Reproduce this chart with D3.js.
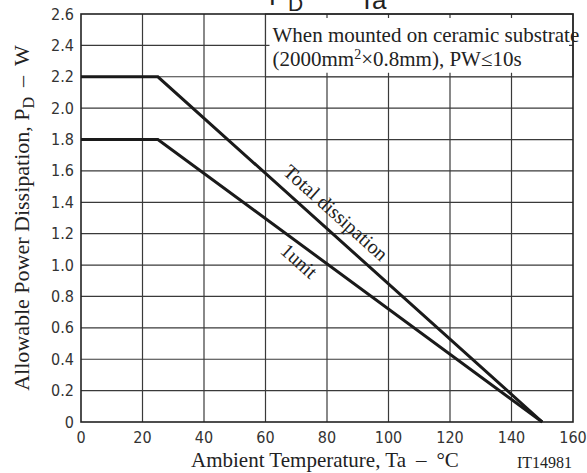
<!DOCTYPE html>
<html>
<head>
<meta charset="utf-8">
<script src="https://cdn.jsdelivr.net/npm/d3@7"></script>
<style>
  html, body { margin: 0; padding: 0; background: #fff; }
  svg { display: block; }
  .serif { font-family: "Liberation Serif", "Times New Roman", serif; fill: #222; }
  .tick { font-family: "Liberation Sans Narrow", "DejaVu Sans Condensed", "Liberation Sans", sans-serif; font-size: 16px; fill: #333; }
</style>
</head>
<body>
<div id="chart"></div>
<script>
// Derating curves, Pd (W) against ambient temperature Ta (degC)
const totalTa = [0, 25, 150];
const totalPd = [2.2, 2.2, 0];
const unitTa = [0, 25, 150];
const unitPd = [1.8, 1.8, 0];

const xTicks = [0, 20, 40, 60, 80, 100, 120, 140, 160];
const yTicks = [0, 0.2, 0.4, 0.6, 0.8, 1.0, 1.2, 1.4, 1.6, 1.8, 2.0, 2.2, 2.4, 2.6];
const yTickLabels = ["0", "0.2", "0.4", "0.6", "0.8", "1.0", "1.2", "1.4", "1.6", "1.8", "2.0", "2.2", "2.4", "2.6"];

const width = 587, height = 473;
const margin = { top: 14, right: 14, bottom: 51, left: 81 };

const svg = d3.select("#chart").append("svg")
    .attr("width", width)
    .attr("height", height);

const x = d3.scaleLinear().domain([0, 160]).range([margin.left, width - margin.right]);
const y = d3.scaleLinear().domain([0, 2.6]).range([height - margin.bottom, margin.top]);

const gridColor = "#3a3a3a";

// grid
svg.append("g").selectAll("line")
    .data(xTicks.slice(1, -1))
    .enter().append("line")
    .attr("x1", d => x(d)).attr("x2", d => x(d))
    .attr("y1", y(0)).attr("y2", y(2.6))
    .attr("stroke", gridColor).attr("stroke-width", 1.2);

svg.append("g").selectAll("line")
    .data(yTicks.slice(1, -1))
    .enter().append("line")
    .attr("x1", x(0)).attr("x2", x(160))
    .attr("y1", d => y(d)).attr("y2", d => y(d))
    .attr("stroke", gridColor).attr("stroke-width", 1.2);

// note box covers part of the grid
svg.append("rect")
    .attr("x", x(60)).attr("y", y(2.6))
    .attr("width", x(160) - x(60)).attr("height", y(2.2) - y(2.6))
    .attr("fill", "#fff")
    .attr("stroke", gridColor).attr("stroke-width", 1.2);

const stubs = svg.append("g").attr("stroke", gridColor).attr("stroke-width", 1.2);
[80, 100, 120, 140].forEach(t => {
    stubs.append("line").attr("x1", x(t)).attr("x2", x(t)).attr("y1", y(2.6)).attr("y2", y(2.6) + 4);
    stubs.append("line").attr("x1", x(t)).attr("x2", x(t)).attr("y1", y(2.2)).attr("y2", y(2.2) - 4);
});
stubs.append("line").attr("x1", x(60)).attr("x2", x(60) + 4).attr("y1", y(2.4)).attr("y2", y(2.4));
stubs.append("line").attr("x1", x(160) - 4).attr("x2", x(160)).attr("y1", y(2.4)).attr("y2", y(2.4));

// frame
svg.append("rect")
    .attr("x", x(0)).attr("y", y(2.6))
    .attr("width", x(160) - x(0)).attr("height", y(0) - y(2.6))
    .attr("fill", "none")
    .attr("stroke", "#222").attr("stroke-width", 1.6);

// tick labels
svg.append("g").selectAll("text")
    .data(xTicks)
    .enter().append("text")
    .attr("class", "tick")
    .attr("x", d => x(d))
    .attr("y", y(0) + 21)
    .attr("text-anchor", "middle")
    .text(d => d);

svg.append("g").selectAll("text")
    .data(yTicks)
    .enter().append("text")
    .attr("class", "tick")
    .attr("x", x(0) - 7)
    .attr("y", d => y(d) + 5.5)
    .attr("text-anchor", "end")
    .text((d, i) => yTickLabels[i]);

// curves
const line = d3.line().x(d => x(d[0])).y(d => y(d[1]));

svg.append("path")
    .datum(d3.zip(totalTa, totalPd))
    .attr("d", line)
    .attr("fill", "none").attr("stroke", "#1a1a1a").attr("stroke-width", 3);

svg.append("path")
    .datum(d3.zip(unitTa, unitPd))
    .attr("d", line)
    .attr("fill", "none").attr("stroke", "#1a1a1a").attr("stroke-width", 3);

// curve labels, rotated along the total curve
const angle = Math.atan2(y(0) - y(2.2), x(150) - x(25)) * 180 / Math.PI;
const onTotal = t => [x(t), y(2.2 * (150 - t) / 125)];
const onUnit = t => [x(t), y(1.8 * (150 - t) / 125)];

const p1 = onTotal(79);
svg.append("text")
    .attr("class", "serif")
    .attr("transform", `translate(${p1[0]},${p1[1]}) rotate(${angle})`)
    .attr("y", -11)
    .attr("text-anchor", "middle")
    .style("font-size", "20px")
    .text("Total dissipation");

const p2 = onUnit(74);
svg.append("text")
    .attr("class", "serif")
    .attr("transform", `translate(${p2[0]},${p2[1]}) rotate(${angle})`)
    .attr("y", 21)
    .attr("text-anchor", "middle")
    .style("font-size", "20px")
    .text("1unit");

// note text
const note = svg.append("g").attr("class", "serif").style("font-size", "21px");
note.append("text").attr("x", x(60) + 7).attr("y", 42)
    .text("When mounted on ceramic substrate");
const n2 = note.append("text").attr("x", x(60) + 7).attr("y", 66);
n2.append("tspan").text("(2000mm");
n2.append("tspan").attr("dy", -7).style("font-size", "14px").text("2");
n2.append("tspan").attr("dy", 7).text("\u00d70.8mm), PW\u226410s");

// title (mostly above the picture)
const title = svg.append("g").style("font-family", "'Liberation Sans', Arial, sans-serif").attr("fill", "#222");
title.append("text").attr("x", 269).attr("y", 5).style("font-size", "26px").text("P");
title.append("text").attr("x", 288).attr("y", 11).style("font-size", "21px").text("D");
title.append("text").attr("x", 328).attr("y", 5).style("font-size", "26px").text("\u2013");
title.append("text").attr("x", 359).attr("y", 9).style("font-size", "26px").text("Ta");

// axis titles
const xt = svg.append("text").attr("class", "serif")
    .attr("x", 191).attr("y", 467)
    .style("font-size", "21px");
xt.append("tspan").text("Ambient Temperature, Ta");
xt.append("tspan").attr("dx", 10).text("\u2013");
xt.append("tspan").attr("dx", 10).text("\u00b0C");

svg.append("text").attr("class", "serif")
    .attr("x", 517).attr("y", 468)
    .style("font-size", "16px")
    .text("IT14981");

const yt = svg.append("text").attr("class", "serif")
    .attr("transform", `translate(29,${(y(0) + y(2.6)) / 2}) rotate(-90)`)
    .attr("text-anchor", "middle")
    .style("font-size", "22px");
yt.append("tspan").text("Allowable Power Dissipation, P");
yt.append("tspan").attr("dy", 5).style("font-size", "16px").text("D");
yt.append("tspan").attr("dy", -5).attr("dx", 10).text("\u2013");
yt.append("tspan").attr("dx", 10).text("W");
</script>
</body>
</html>
